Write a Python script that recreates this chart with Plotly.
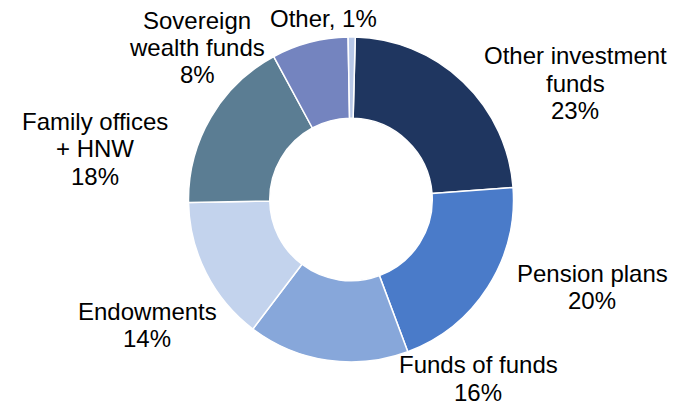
import plotly.graph_objects as go

categories = ["Other investment funds", "Pension plans", "Funds of funds", "Endowments",
              "Family offices + HNW", "Sovereign wealth funds", "Other"]
values = [23.4, 20.5, 16.0, 14.4, 17.4, 7.6, 0.7]
label_lines = [["Other investment", "funds", "23%"], ["Pension plans", "20%"],
               ["Funds of funds", "16%"], ["Endowments", "14%"],
               ["Family offices", "+ HNW", "18%"], ["Sovereign", "wealth funds", "8%"],
               ["Other, 1%"]]
colors = ["#1F3660", "#4A7BC9", "#87A7DA", "#C3D3ED", "#5B7D93", "#7484BF", "#B8C8E8"]
# centre x and first-line centre y of each label, in pixels from top-left
label_px = [(575, 55.7), (592, 273.3), (478, 364.5), (147, 311.3), (95, 121.3), (197, 20), (323, 18.8)]
line_gap = 27.5

W, H = 679, 404
cx, cy, r = 351, 199.5, 162.5

fig = go.Figure(go.Pie(
    labels=categories, values=values, sort=False, direction="clockwise", rotation=1.5,
    hole=0.5, textinfo="none", hoverinfo="label+percent",
    marker=dict(colors=colors, line=dict(color="white", width=1.5)),
    domain=dict(x=[(cx - r) / W, (cx + r) / W], y=[(H - cy - r) / H, (H - cy + r) / H]),
    showlegend=False,
))

for lines, (px, py) in zip(label_lines, label_px):
    for i, txt in enumerate(lines):
        yy = py + i * line_gap
        fig.add_annotation(x=px / W, y=1 - yy / H, xref="paper", yref="paper", text=txt,
                           showarrow=False, xanchor="center", yanchor="middle", align="center",
                           borderpad=0,
                           font=dict(family="Liberation Sans, Arial, sans-serif", size=24,
                                     color="#000000"))

fig.update_layout(width=W, height=H, margin=dict(l=0, r=0, t=0, b=0),
                  paper_bgcolor="white", plot_bgcolor="white")
fig.write_html("out.html", config={"displayModeBar": False},
               post_script="document.body.style.margin='0';")
